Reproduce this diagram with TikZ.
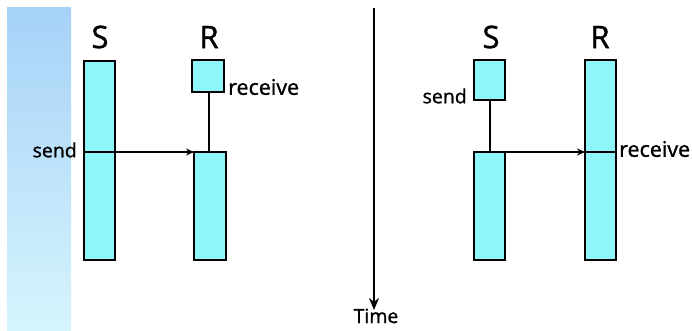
\documentclass[tikz,border=0pt]{standalone}
\usepackage{fontspec}
\newfontfamily\lblfont[FakeBold=1.2]{Open Sans}
\usetikzlibrary{arrows.meta}
\definecolor{barfill}{RGB}{142,246,250}
\definecolor{striptop}{RGB}{166,210,248}
\definecolor{stripbot}{RGB}{214,244,252}
\tikzset{
  bar/.style={draw=black, line width=2pt, fill=barfill, anchor=north west, inner sep=0pt, outer sep=0pt},
  conn/.style={line width=1.5pt},
  msg/.style={line width=1.5pt, -{Stealth[length=8pt,width=7pt]}},
  big/.style={font=\lblfont\fontsize{31}{33}\selectfont},
  small/.style={font=\lblfont\fontsize{19.5}{21}\selectfont, inner sep=1pt},
  wide/.style={font=\lblfont\fontsize{21.5}{23}\selectfont, inner sep=1pt},
}
\begin{document}
\begin{tikzpicture}[x=1pt,y=-1pt]
\useasboundingbox (0,0) rectangle (692,330);
\shade[top color=striptop, bottom color=stripbot] (7,7) rectangle (71,330);
% left diagram
\node[big] (S1) at (100,37) {S};
\node[big] (R1) at (209,37) {R};
\node[bar, minimum width=31, minimum height=199] (s1bar) at (84,61) {};
\node[bar, minimum width=32, minimum height=32] (r1box) at (192,60) {};
\node[bar, minimum width=32, minimum height=108] (r1bar) at (194,152) {};
\coordinate (s1in) at (84,152);
\coordinate (s1out) at (115,152);
\coordinate (r1top) at (209,92);
\coordinate (r1low) at (209,152);
\draw[conn] (r1top) -- (r1low);
\draw[conn] (s1in) -- (s1out);
\draw[msg] (s1out) -- (r1bar.north west);
\node[small, anchor=east] (send1) at (78,150) {send};
\node[wide, anchor=west] (recv1) at (227,87) {receive};
% time axis
\coordinate (t0) at (374,8);
\node[small, inner sep=0pt, anchor=base] (time) at (376,323) {Time};
\draw[line width=2pt, -{Stealth[length=12pt,width=10pt]}] (t0) -- (374,310);
% right diagram
\node[big] (S2) at (491,37) {S};
\node[big] (R2) at (600,37) {R};
\node[bar, minimum width=31, minimum height=40] (s2box) at (474,60) {};
\node[bar, minimum width=31, minimum height=108] (s2bar) at (474,152) {};
\node[bar, minimum width=31, minimum height=200] (r2bar) at (585,60) {};
\coordinate (s2top) at (490,100);
\coordinate (s2low) at (490,152);
\coordinate (r2in) at (585,152);
\coordinate (r2out) at (616,152);
\draw[conn] (s2top) -- (s2low);
\draw[msg] (s2low) -- (r2in);
\draw[conn] (r2in) -- (r2out);
\node[small, anchor=east] (send2) at (468,96) {send};
\node[wide, anchor=west] (recv2) at (618,149) {receive};
\end{tikzpicture}
\end{document}
